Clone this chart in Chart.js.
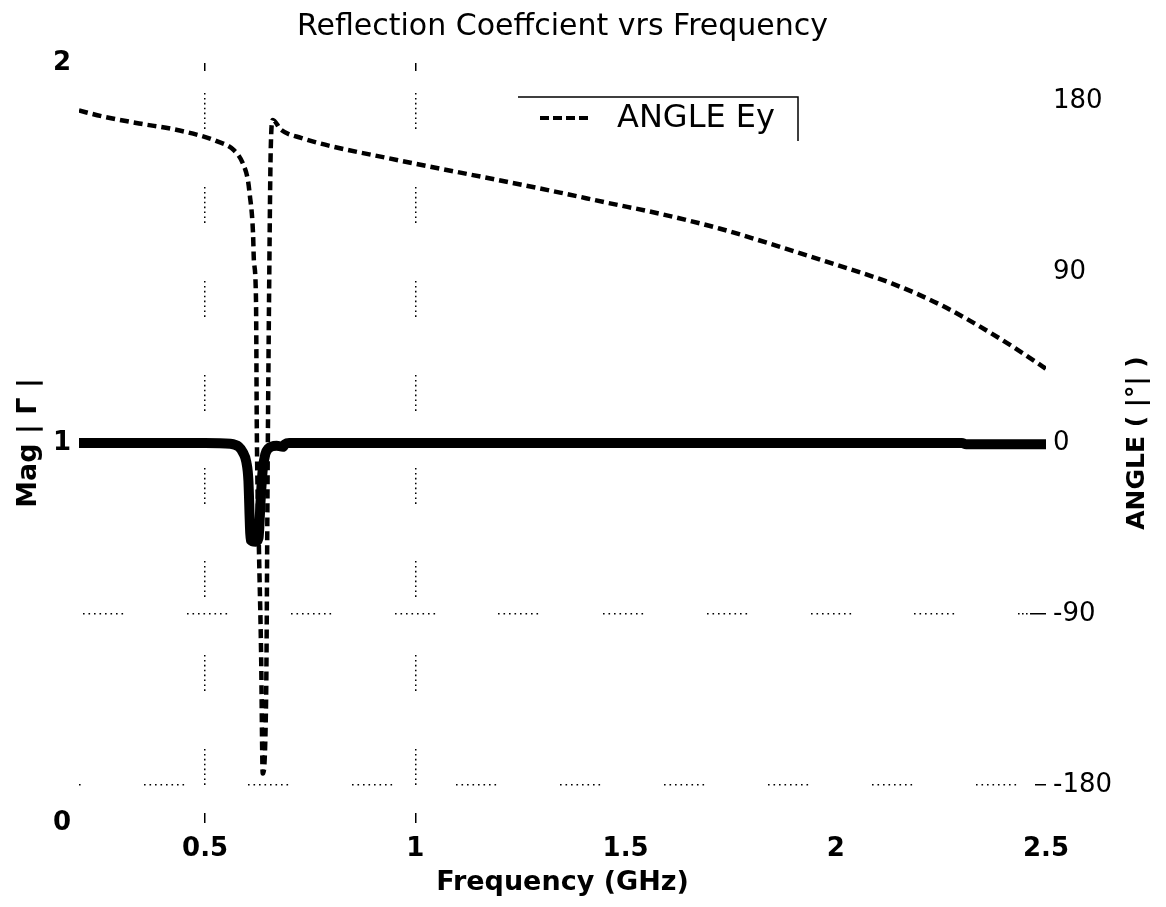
<!DOCTYPE html>
<html>
<head>
<meta charset="utf-8">
<script src="https://cdn.jsdelivr.net/npm/chart.js@4.4.1/dist/chart.umd.min.js"></script>
<style>
  html, body { margin: 0; padding: 0; background: #fff; }
  #wrap { width: 1166px; height: 907px; }
</style>
</head>
<body>
<div id="wrap"><canvas id="chart"></canvas></div>
<script>
// tick values
const freqTicks = [0.5, 1, 1.5, 2, 2.5];
const magTicks = [0, 1, 2];
const angleTicks = [-180, -90, 0, 90, 180];

// |Gamma| vs frequency (GHz)
const magFreq   = [0.2, 0.5, 0.56, 0.58, 0.59, 0.598, 0.603, 0.606, 0.608, 0.62, 0.627, 0.632, 0.637, 0.643, 0.65, 0.67, 0.685, 0.69, 0.7, 1.0, 1.5, 2.0, 2.3, 2.31, 2.5];
const magValues = [1, 1, 0.998, 0.99, 0.975, 0.95, 0.9, 0.8, 0.745, 0.74, 0.75, 0.85, 0.93, 0.97, 0.985, 0.993, 0.99, 0.997, 1, 1, 1, 1, 1, 0.997, 0.997];

// angle of Ey (degrees) vs frequency (GHz)
const angleFreq   = [0.2, 0.254, 0.348, 0.419, 0.49, 0.526, 0.569, 0.59, 0.602, 0.607, 0.611, 0.614, 0.616, 0.621, 0.623, 0.628, 0.633, 0.637, 0.645, 0.649, 0.652, 0.656, 0.661, 0.68, 0.728, 0.964, 1.0, 1.344, 1.455, 1.581, 1.723, 1.858, 1.991, 2.133, 2.251, 2.37, 2.488, 2.5];
const angleValues = [175, 172, 168, 165.4, 161.7, 159, 154, 147, 138, 129, 121, 110, 96, 75, 5, -56, -109, -174, -135, -4, 75, 154, 170, 165, 160.6, 148.6, 147, 131.8, 126.5, 120.7, 112.9, 103.9, 94.5, 84, 72.5, 57.7, 40.9, 39];

const FONT = 'DejaVu Sans';

// dotted grid pieces, built as canvas dash arrays
function dots(start, n, step) {
  const out = [];
  for (let k = 0; k < n; k++) out.push([start + k * step, 1.6]);
  return out;
}
function dashFrom(segs) {
  const out = [0, segs[0][0]];
  for (let i = 0; i < segs.length; i++) {
    const end = segs[i][0] + segs[i][1];
    const gap = i + 1 < segs.length ? segs[i + 1][0] - end : 3000;
    out.push(segs[i][1], gap);
  }
  return out;
}
const vDash = dashFrom([[0, 8]].concat(
  [30, 124, 218, 312, 405, 498, 592, 686].flatMap(s => dots(s, 8, 4.9)),
  [[750, 10]]));
const m90Dash = dashFrom([4, 108, 212, 316, 419, 524, 628, 732, 835].flatMap(s => dots(s, 8, 5.5))
  .concat(dots(939, 3, 4), [[951, 16]]));
const m180Dash = dashFrom([[0, 1.6]].concat(
  [65, 169, 273, 377, 481, 585, 689, 793, 897].flatMap(s => dots(s, 8, 5.5)),
  [[956, 12]]));

const legendBox = {
  id: 'legendBox',
  afterDraw(chart) {
    const ctx = chart.ctx;
    ctx.save();
    ctx.strokeStyle = '#000';
    ctx.lineWidth = 1.5;
    ctx.beginPath();
    ctx.moveTo(518, 97);
    ctx.lineTo(798, 97);
    ctx.lineTo(798, 141);
    ctx.stroke();
    ctx.lineWidth = 4;
    ctx.setLineDash([9, 4]);
    ctx.beginPath();
    ctx.moveTo(540, 118);
    ctx.lineTo(592, 118);
    ctx.stroke();
    ctx.setLineDash([]);
    ctx.fillStyle = '#000';
    ctx.font = '32px ' + FONT;
    ctx.textBaseline = 'middle';
    ctx.fillText(chart.data.datasets[1].label, 617, 119);
    ctx.restore();
  }
};

// right axis title reads bottom-to-top in the original
const rightTitle = {
  id: 'rightTitle',
  afterDraw(chart) {
    const ctx = chart.ctx;
    const a = chart.chartArea;
    ctx.save();
    ctx.translate(1137, (a.top + a.bottom) / 2);
    ctx.rotate(-Math.PI / 2);
    ctx.fillStyle = '#000';
    ctx.font = 'bold 25px ' + FONT;
    ctx.textAlign = 'center';
    ctx.textBaseline = 'middle';
    ctx.fillText('ANGLE ( |°| )', 0, 0);
    ctx.restore();
  }
};

new Chart(document.getElementById('chart'), {
  type: 'line',
  data: {
    datasets: [
      {
        label: 'Mag',
        data: magFreq.map((f, i) => ({ x: f, y: magValues[i] })),
        yAxisID: 'yMag',
        borderColor: '#000',
        borderWidth: 10,
        borderJoinStyle: 'bevel',
        pointRadius: 0,
        cubicInterpolationMode: 'monotone'
      },
      {
        label: 'ANGLE Ey',
        data: angleFreq.map((f, i) => ({ x: f, y: angleValues[i] })),
        yAxisID: 'yAng',
        borderColor: '#000',
        borderWidth: 4.5,
        borderDash: [9, 5],
        pointRadius: 0,
        cubicInterpolationMode: 'monotone'
      }
    ]
  },
  options: {
    responsive: true,
    maintainAspectRatio: false,
    animation: false,
    layout: { padding: 0 },
    plugins: {
      legend: { display: false },
      tooltip: { enabled: false },
      title: {
        display: true,
        fullSize: false,
        text: 'Reflection Coeffcient vrs Frequency',
        color: '#000',
        font: { family: FONT, size: 30, weight: 'normal' },
        padding: { top: 9, bottom: 18 }
      }
    },
    scales: {
      x: {
        type: 'linear',
        min: 0.2,
        max: 2.5,
        afterBuildTicks: axis => { axis.ticks = freqTicks.map(v => ({ value: v })); },
        afterFit: s => { s.height = 84; },
        ticks: {
          color: '#000',
          font: { family: FONT, size: 26, weight: 'bold' },
          padding: 11,
          maxRotation: 0,
          autoSkip: false,
          callback: v => String(v)
        },
        grid: {
          drawTicks: false,
          lineWidth: 1.5,
          color: c => (c.tick && (c.tick.value === 0.5 || c.tick.value === 1)) ? '#000' : 'rgba(0,0,0,0)'
        },
        border: { display: false, dash: c => c.tick ? vDash : [] },
        title: {
          display: true,
          text: 'Frequency (GHz)',
          color: '#000',
          font: { family: FONT, size: 27, weight: 'bold' },
          padding: { top: 0, bottom: 8 }
        }
      },
      yMag: {
        type: 'linear',
        position: 'left',
        min: 0,
        max: 2,
        afterBuildTicks: axis => { axis.ticks = magTicks.map(v => ({ value: v })); },
        afterFit: s => { s.width = 79; },
        ticks: {
          color: '#000',
          font: { family: FONT, size: 26, weight: 'bold' },
          padding: 8,
          callback: v => String(v)
        },
        grid: { display: false, drawTicks: false },
        border: { display: false },
        title: {
          display: true,
          text: 'Mag | Γ |',
          color: '#000',
          font: { family: FONT, size: 27, weight: 'bold' },
          padding: { top: 13, bottom: 0 }
        }
      },
      yAng: {
        type: 'linear',
        position: 'right',
        min: -200,
        max: 200,
        afterBuildTicks: axis => { axis.ticks = angleTicks.map(v => ({ value: v })); },
        afterFit: s => { s.width = 120; },
        ticks: {
          color: '#000',
          font: { family: FONT, size: 26 },
          padding: 7,
          callback: v => String(v)
        },
        grid: {
          drawTicks: false,
          lineWidth: 1.5,
          color: c => (c.tick && (c.tick.value === -90 || c.tick.value === -180)) ? '#000' : 'rgba(0,0,0,0)'
        },
        border: {
          display: false,
          dash: c => !c.tick ? [] : (c.tick.value === -90 ? m90Dash : m180Dash)
        }
      }
    }
  },
  plugins: [legendBox, rightTitle]
});
</script>
</body>
</html>
